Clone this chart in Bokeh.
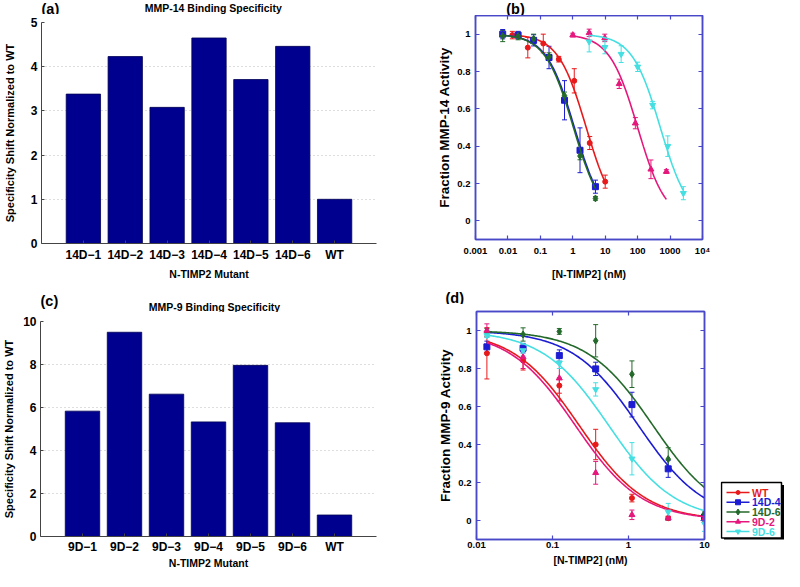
import numpy as np
from bokeh.plotting import figure
from bokeh.layouts import row, column
from bokeh.models import (Range1d, FixedTicker, LogAxis, LinearAxis, Whisker,
                          ColumnDataSource, TeeHead)
from bokeh.core.properties import value
from bokeh.embed import file_html
from bokeh.resources import INLINE

FONT = "Liberation Sans"

# ---------------- data ----------------
a_labels = ["14D−1", "14D−2", "14D−3", "14D−4", "14D−5", "14D−6", "WT"]
a_values = [3.38, 4.23, 3.08, 4.65, 3.71, 4.46, 1.0]
a_yticks = [0, 1, 2, 3, 4, 5]

c_labels = ["9D−1", "9D−2", "9D−3", "9D−4", "9D−5", "9D−6", "WT"]
c_values = [5.83, 9.50, 6.62, 5.33, 7.96, 5.29, 1.0]
c_yticks = [0, 2, 4, 6, 8, 10]

series_names = ["WT", "14D-4", "14D-6", "9D-2", "9D-6"]
series_colors = ["#e8191b", "#1c1cd2", "#23692a", "#e5177c", "#45dfe2"]
series_markers = ["circle", "square", "diamond", "triangle", "inverted_triangle"]
series_sizes = [5, 6, 7, 6, 6]

# panel (b): MMP-14 inhibition
b_wt_x = [0.0137, 0.041, 0.123, 0.37, 1.11, 3.33, 10]
b_wt_y = [0.995, 0.928, 0.95, 0.866, 0.75, 0.417, 0.21]
b_wt_e = [0.02, 0.055, 0.05, 0.015, 0.065, 0.035, 0.035]
b_14d4_x = [0.0069, 0.0206, 0.062, 0.185, 0.556, 1.67, 5.0]
b_14d4_y = [1.0, 0.995, 0.967, 0.875, 0.646, 0.378, 0.183]
b_14d4_e = [0.025, 0.02, 0.03, 0.06, 0.105, 0.12, 0.035]
b_14d6_x = [0.0069, 0.0206, 0.062, 0.185, 0.556, 1.67, 5.0]
b_14d6_y = [0.99, 0.99, 0.975, 0.88, 0.67, 0.347, 0.12]
b_14d6_e = [0.03, 0.02, 0.025, 0.02, 0.02, 0.02, 0.01]
b_9d2_x = [1.0, 3.2, 9.7, 27, 85, 257, 770]
b_9d2_y = [0.995, 1.007, 0.98, 0.734, 0.523, 0.276, 0.264]
b_9d2_e = [0.01, 0.02, 0.02, 0.025, 0.03, 0.05, 0.01]
b_9d6_x = [3.2, 9.8, 31, 100, 290, 850, 2570]
b_9d6_y = [0.96, 0.93, 0.893, 0.825, 0.62, 0.40, 0.148]
b_9d6_e = [0.055, 0.035, 0.045, 0.025, 0.02, 0.055, 0.035]
b_ic50 = [2.6, 1.12, 1.05, 100, 500]          # fitted IC50 (nM) for the curves

# panel (d): MMP-9 inhibition
d_x = [0.0137, 0.041, 0.123, 0.37, 1.11, 3.33, 10]
d_wt_y = [0.88, 0.842, 0.71, 0.40, 0.118, 0.012, 0.005]
d_wt_e = [0.135, 0.05, 0.04, 0.08, 0.02, 0.01, 0.01]
d_14d4_y = [0.914, 0.907, 0.868, 0.798, 0.61, 0.272, 0.018]
d_14d4_e = [0.03, 0.025, 0.03, 0.035, 0.065, 0.045, 0.02]
d_14d6_y = [0.99, 0.979, 0.995, 0.946, 0.77, 0.323, 0.035]
d_14d6_e = [0.02, 0.035, 0.015, 0.085, 0.07, 0.06, 0.01]
d_9d2_y = [1.0, 0.86, 0.749, 0.251, 0.03, 0.012, 0.01]
d_9d2_e = [0.035, 0.06, 0.12, 0.06, 0.025, 0.01, 0.01]
d_9d6_y = [0.974, 0.895, 0.83, 0.69, 0.325, 0.045, -0.017]
d_9d6_e = [0.01, 0.03, 0.03, 0.035, 0.085, 0.045, 0.04]
d_ic50 = [0.225, 1.35, 2.1, 0.2, 0.55]

b_xticks = [0.001, 0.01, 0.1, 1, 10, 100, 1000, 10000]
b_xlabels = ["0.001", "0.01", "0.1", "1", "10", "100", "1000", "10⁴"]
d_xticks = [0.01, 0.1, 1, 10]
d_xlabels = ["0.01", "0.1", "1", "10"]
frac_yticks = [0, 0.2, 0.4, 0.6, 0.8, 1.0]
frac_ylabels = ["0", "0.2", "0.4", "0.6", "0.8", "1"]

NAVY = "#00008e"
FRAME = "#4848c8"


def text_fig(w, h, bt=0, bb=0):
    f = figure(width=w, height=h, x_range=Range1d(0, w), y_range=Range1d(h - bb, bt),
               output_backend="svg", toolbar_location=None, min_border=0,
               min_border_top=bt, min_border_bottom=bb, min_border_left=0,
               min_border_right=0, x_axis_location=None, y_axis_location=None)
    f.title.visible = False
    f.outline_line_color = None
    f.xgrid.grid_line_color = None
    f.ygrid.grid_line_color = None
    return f


def put_text(f, x, y, text, size, align="left", baseline="top", colors="black"):
    f.text(x=x, y=y, text=text, text_font=value(FONT), text_font_style="bold",
           text_font_size=size, text_align=align, text_baseline=baseline,
           text_color=colors)


def bar_panel(labels, values, yticks, height, bt, bb, ylab_standoff):
    xs = list(range(1, len(labels) + 1))
    p = figure(width=392, height=height, x_range=Range1d(0, len(labels) + 1),
               y_range=Range1d(0, yticks[-1]), output_backend="svg", toolbar_location=None,
               min_border_left=37, min_border_right=16, min_border_top=bt, min_border_bottom=bb)
    p.title.visible = False
    p.vbar(x=xs, top=values, width=0.82, fill_color=NAVY, line_color="#000055", line_width=0.8)
    xa, ya = p.below[0], p.left[0]
    xa.ticker = FixedTicker(ticks=xs)
    xa.major_label_overrides = {float(x): l for x, l in zip(xs, labels)}
    ya.ticker = FixedTicker(ticks=yticks)
    ya.major_label_overrides = {float(t): str(t) for t in yticks}
    for ax in (xa, ya):
        ax.major_label_text_font = FONT
        ax.major_label_text_font_style = "bold"
        ax.major_label_text_font_size = "12px"
        ax.major_label_text_color = "black"
        ax.axis_label_text_font = FONT
        ax.axis_label_text_font_style = "bold"
        ax.axis_label_text_color = "black"
        ax.axis_line_color = "#444444"
        ax.major_tick_line_color = "#444444"
        ax.major_tick_in = 3
        ax.major_tick_out = 0
        ax.minor_tick_line_color = None
        ax.major_label_standoff = 4
    xa.axis_label = "N-TIMP2 Mutant"
    xa.axis_label_text_font_size = "10.5px"
    xa.axis_label_standoff = 3
    ya.axis_label = "Specificity Shift Normalized to WT"
    ya.axis_label_text_font_size = "11px"
    ya.axis_label_standoff = ylab_standoff
    p.xgrid.grid_line_color = None
    p.ygrid.grid_line_color = "#bdbdbd"
    p.ygrid.grid_line_dash = "1 3"
    p.outline_line_color = None
    return p


def curve_panel(xr, xticks, xlabels, width, height, bl, br, bt, bb, ylabel, series, ic50s):
    p = figure(width=width, height=height, x_axis_type="log", x_range=Range1d(*xr),
               y_range=Range1d(-0.1, 1.1), output_backend="svg", toolbar_location=None,
               min_border_left=bl, min_border_right=br, min_border_top=bt, min_border_bottom=bb)
    p.title.visible = False
    p.xgrid.grid_line_color = None
    p.ygrid.grid_line_color = None
    p.outline_line_color = FRAME
    p.outline_line_width = 1.5
    xa, ya = p.below[0], p.left[0]
    xa.ticker = FixedTicker(ticks=xticks)
    xa.major_label_overrides = {float(t): l for t, l in zip(xticks, xlabels)}
    ya.ticker = FixedTicker(ticks=frac_yticks)
    ya.major_label_overrides = {float(t): l for t, l in zip(frac_yticks, frac_ylabels)}
    top = LogAxis(ticker=FixedTicker(ticks=xticks),
                  major_label_overrides={float(t): "" for t in xticks})
    right = LinearAxis(ticker=FixedTicker(ticks=frac_yticks),
                       major_label_overrides={float(t): "" for t in frac_yticks})
    for ax in (top, right):
        ax.major_label_text_font_size = "0px"
        ax.major_label_standoff = 0
    p.add_layout(top, "above")
    p.add_layout(right, "right")
    for ax in (xa, ya, top, right):
        ax.axis_line_color = FRAME
        ax.axis_line_width = 1.5
        ax.major_tick_line_color = FRAME
        ax.major_tick_line_width = 1.2
        ax.major_tick_in = 4
        ax.major_tick_out = 0
        ax.minor_tick_line_color = None
    for ax in (xa, ya):
        ax.major_label_text_font = FONT
        ax.major_label_text_font_style = "bold"
        ax.major_label_text_font_size = "9.5px"
        ax.major_label_text_color = "black"
        ax.axis_label_text_font = FONT
        ax.axis_label_text_font_style = "bold"
        ax.axis_label_text_color = "black"
    xa.axis_label = "[N-TIMP2] (nM)"
    xa.axis_label_text_font_size = "10.5px"
    ya.axis_label = ylabel
    ya.axis_label_text_font_size = "13.5px"
    ya.major_label_standoff = 5
    ya.axis_label_standoff = 2

    for (xs, ys, es), k, col, mk, sz in zip(series, ic50s, series_colors,
                                            series_markers, series_sizes):
        cx = np.logspace(np.log10(xs[0]), np.log10(xs[-1]), 200)
        cy = 1.0 / (1.0 + cx / k)
        p.line(cx, cy, line_color=col, line_width=1.6)
        src = ColumnDataSource(dict(x=xs, y=ys,
                                    lo=[y - e for y, e in zip(ys, es)],
                                    hi=[y + e for y, e in zip(ys, es)]))
        p.add_layout(Whisker(source=src, base="x", lower="lo", upper="hi",
                             line_color=col, line_width=1,
                             lower_head=TeeHead(size=5, line_color=col, line_width=1),
                             upper_head=TeeHead(size=5, line_color=col, line_width=1)))
        p.scatter("x", "y", source=src, marker=mk, size=sz, fill_color=col, line_color=col)
    return p, xa


# ---------------- top row ----------------
ha = text_fig(392, 14)
put_text(ha, [0], [0], ["(a)"], "14.5px")
put_text(ha, [201], [7], ["MMP-14 Binding Specificity"], "10.5px", align="center",
         baseline="middle")
pa = bar_panel(a_labels, a_values, a_yticks, 268, 8, 39, 12)

hb = text_fig(392, 15)
put_text(hb, [53], [0], ["(b)"], "14.5px")
b_series = [(b_wt_x, b_wt_y, b_wt_e), (b_14d4_x, b_14d4_y, b_14d4_e),
            (b_14d6_x, b_14d6_y, b_14d6_e), (b_9d2_x, b_9d2_y, b_9d2_e),
            (b_9d6_x, b_9d6_y, b_9d6_e)]
pb, pbx = curve_panel((1e-3, 1e4), b_xticks, b_xlabels, 392, 267, 83, 82, 0, 39,
                      "Fraction MMP-14 Activity", b_series, b_ic50)
pbx.major_label_standoff = 5
pbx.axis_label_standoff = 9

# ---------------- bottom row ----------------
hc = text_fig(392, 30)
put_text(hc, [0], [10], ["(c)"], "14.5px")
put_text(hc, [203], [24], ["MMP-9 Binding Specificity"], "10.5px", align="center",
         baseline="middle")
pc = bar_panel(c_labels, c_values, c_yticks, 259, 9, 30, 5)
pc.below[0].axis_label_standoff = 0
pc.below[0].major_label_standoff = 3

hd = text_fig(392, 22)
put_text(hd, [53], [7], ["(d)"], "14.5px")
d_series = [(d_x, d_wt_y, d_wt_e), (d_x, d_14d4_y, d_14d4_e), (d_x, d_14d6_y, d_14d6_e),
            (d_x, d_9d2_y, d_9d2_e), (d_x, d_9d6_y, d_9d6_e)]
pd, pdx = curve_panel((1e-2, 10), d_xticks, d_xlabels, 328, 267, 84, 16, 7, 32,
                      "Fraction MMP-9 Activity", d_series, d_ic50)
pdx.major_label_standoff = 2
pdx.axis_label_standoff = 3

# legend panel to the right of (d) (same top/bottom borders as (d))
lg = text_fig(64, 267, bt=7, bb=32)
n = len(series_names)
leg_y = [188 + 9.75 * i for i in range(n)]
lg.quad(left=[3.5], right=[64], top=[180.5], bottom=[236], fill_color="black",
        line_color=None)
lg.quad(left=[1], right=[61], top=[178], bottom=[233.5], fill_color="white",
        line_color="black", line_width=1.5)
lg.segment(x0=[6] * n, x1=[29] * n, y0=leg_y, y1=leg_y, line_color=series_colors,
           line_width=1.5)
lg.scatter(x=[17.5] * n, y=leg_y, marker=series_markers, size=[s - 1 for s in series_sizes],
           fill_color=series_colors, line_color=series_colors)
put_text(lg, [31.5] * n, leg_y, series_names, "10.5px", baseline="middle",
         colors=series_colors)

layout = column(row(column(ha, pa), column(hb, pb)),
                row(column(hc, pc), column(hd, row(pd, lg))))
open("out.html", "w").write(file_html(layout, INLINE))
